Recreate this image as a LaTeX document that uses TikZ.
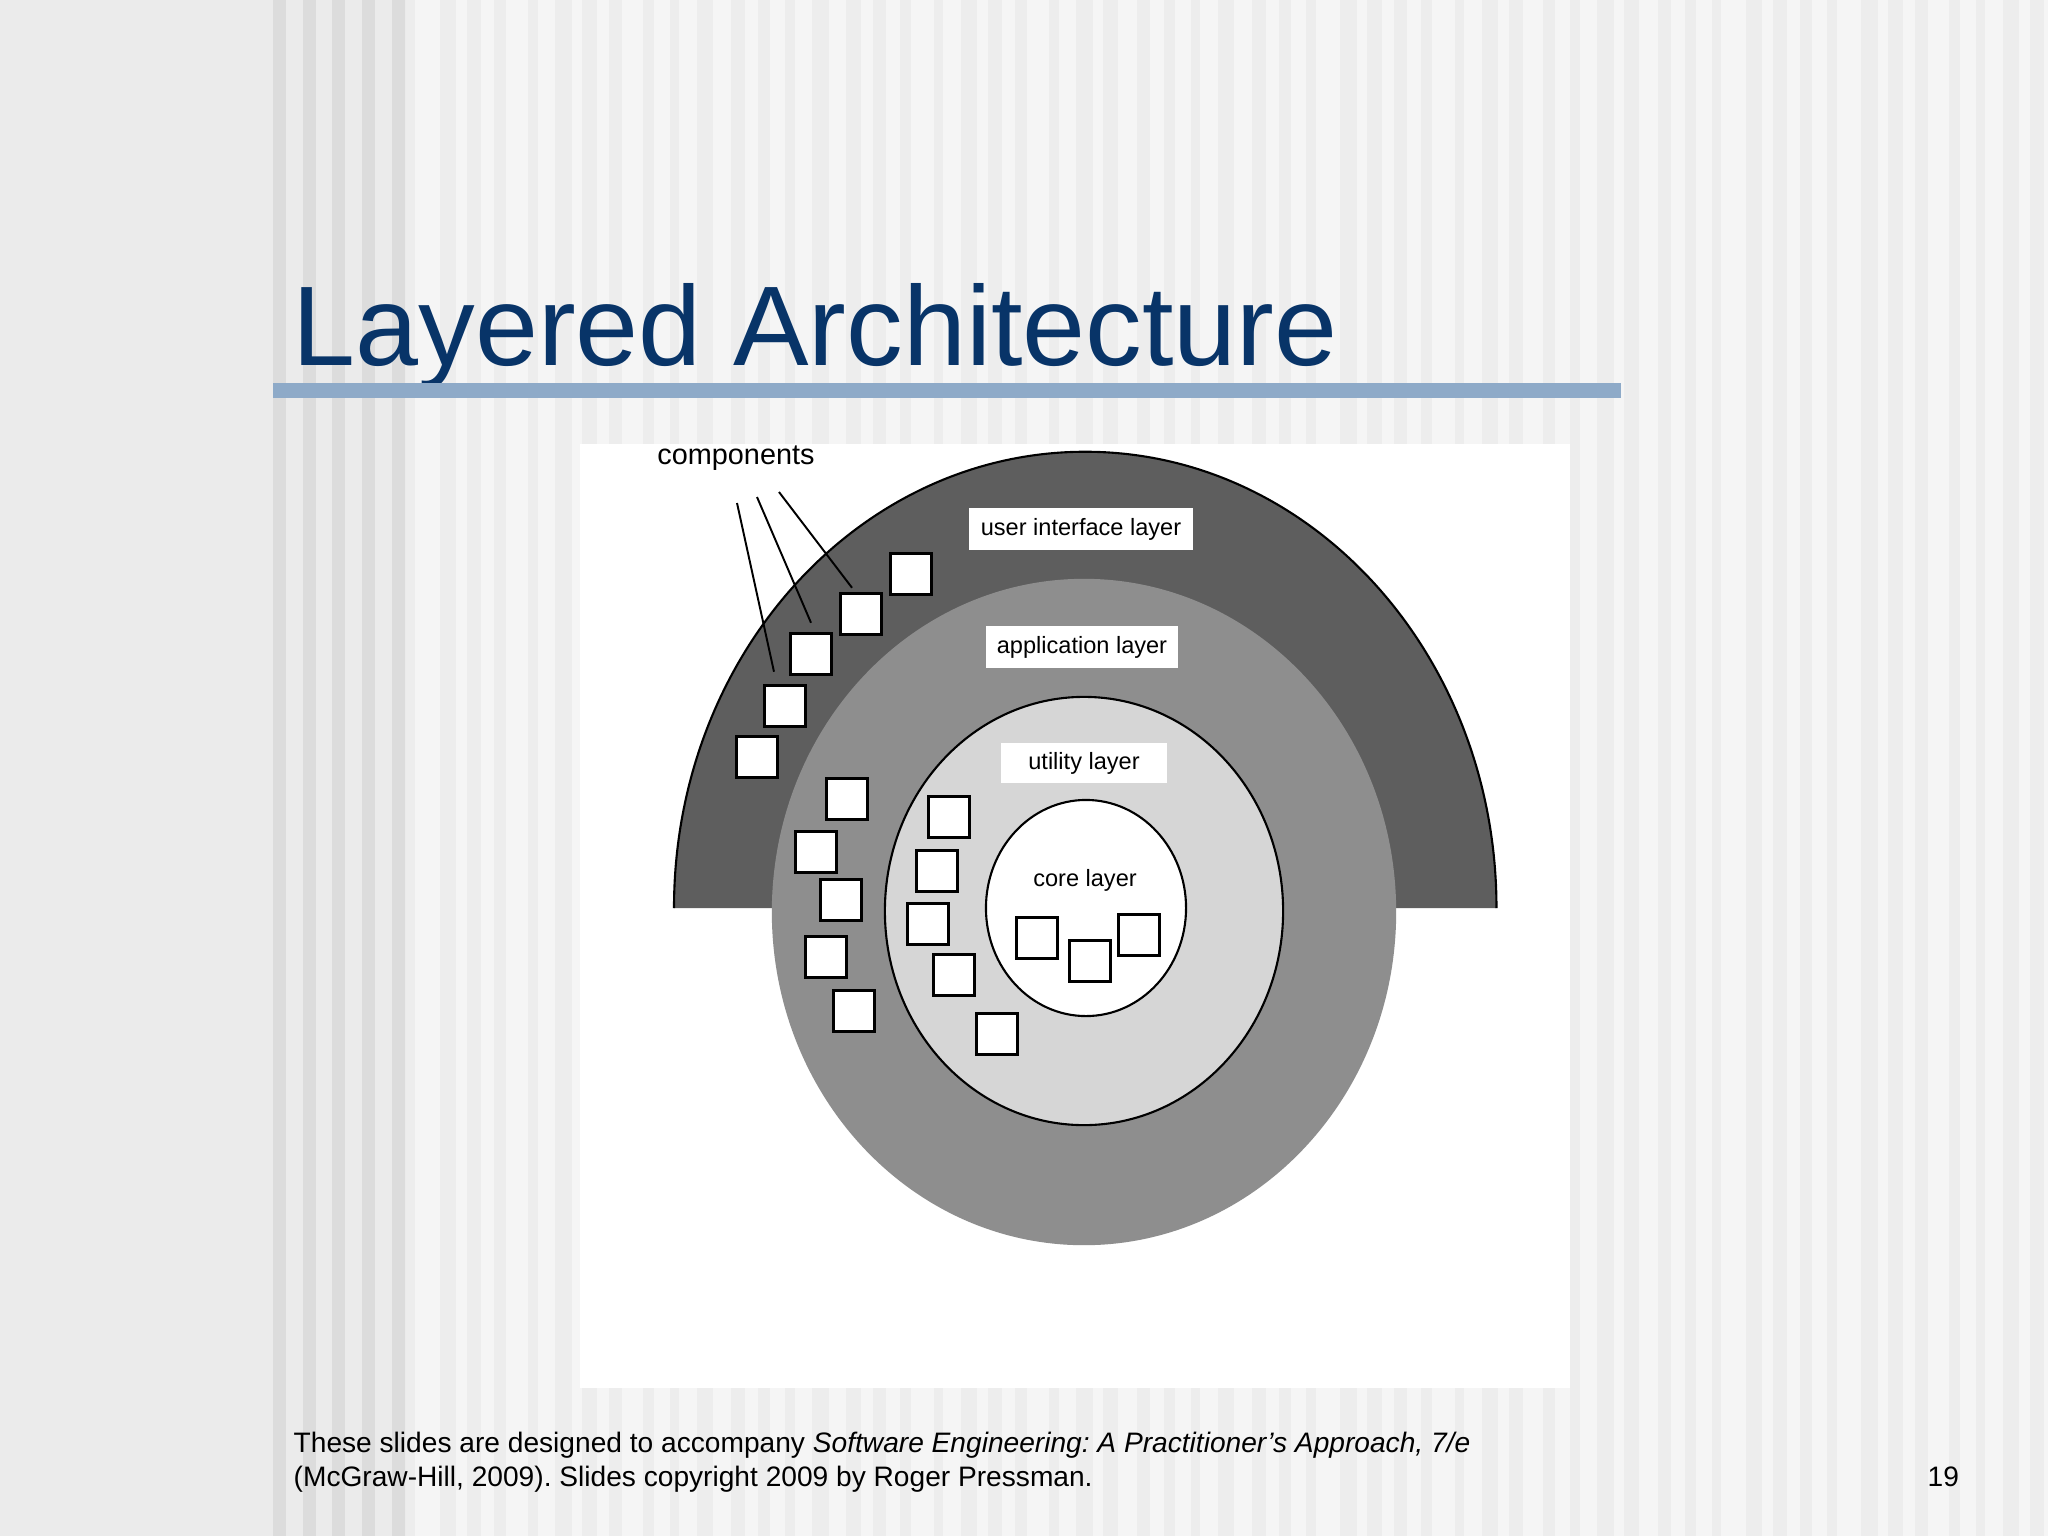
\documentclass[tikz,border=0pt]{standalone}
\usepackage{fontspec}
\setmainfont{Liberation Sans}
\frenchspacing
\definecolor{titleblue}{RGB}{8,52,104}
\definecolor{barblue}{RGB}{142,170,200}
\definecolor{pagegray}{RGB}{235,235,235}
\definecolor{stripedark}{RGB}{220,220,220}
\definecolor{stripelight}{RGB}{245,245,245}
\definecolor{stripemid}{RGB}{237,237,237}
\definecolor{uigray}{RGB}{94,94,94}
\definecolor{appgray}{RGB}{142,142,142}
\definecolor{utilgray}{RGB}{214,214,214}
\tikzset{
  comp/.style={draw,line width=0.85pt,fill=white,minimum size=0.415cm,inner sep=0},
  layerlabel/.style={fill=white,inner sep=0,font=\fontsize{6.7}{8}\selectfont},
  ring/.style={draw,line width=0.6pt},
  pointer/.style={line width=0.55pt},
  slidetext/.style={anchor=base west,inner sep=0,font=\fontsize{8.0}{9.6}\selectfont},
}
\begin{document}
\begin{tikzpicture}[x=0.01cm,y=-0.01cm]
  \useasboundingbox (0,0) rectangle (2048,1536);
  % slide background
  \fill[pagegray] (0,0) rectangle (2048,1536);
  \fill[stripelight] (406,0) rectangle (2048,1536);
  \foreach \x in {273,303,332,362,392}
    \fill[stripedark] (\x,0) rectangle ++(13,1536);
  \foreach \i in {0,...,56}
    \fill[stripemid] ({406+29*\i+mod(\i*5,7)},0) rectangle ++({9+mod(\i*7,9)},1536);

  % title
  \node[anchor=base west,inner sep=0,text=titleblue,font=\fontsize{32.2}{38}\selectfont] (title) at (292,365) {Layered Architecture};
  \fill[barblue] (273,383) rectangle (1621,398);

  % the figure
  \fill[white] (580,444) rectangle (1570,1388);
  \fill[uigray] (674,908) arc[start angle=180,end angle=0,x radius=4.11cm,y radius=4.56cm] -- cycle;
  \draw[line width=0.6pt] (674,908) arc[start angle=180,end angle=0,x radius=4.11cm,y radius=4.56cm];
  \fill[appgray] (1084,912) ellipse[x radius=3.12cm,y radius=3.33cm];
  \filldraw[fill=utilgray,ring] (1084,911) ellipse[x radius=1.99cm,y radius=2.14cm];
  \filldraw[fill=white,ring] (1086,908) ellipse[x radius=1.0cm,y radius=1.08cm];

  \foreach \n/\p in {1/{911,574},2/{861,614},3/{811,654},4/{785,706},5/{757,757},
      6/{847,799},7/{816,852},8/{841,900},9/{826,957},10/{854,1011},
      11/{949,817},12/{937,871},13/{928,924},14/{954,975},15/{997,1034},
      16/{1037,938},17/{1090,961},18/{1139,935}}
    \node[comp] (s\n) at (\p) {};

  \node[layerlabel,minimum width=2.23cm,minimum height=0.42cm] (uilayer) at (1081,529) {user interface layer};
  \node[layerlabel,minimum width=1.92cm,minimum height=0.42cm] (applayer) at (1082,647) {application layer};
  \node[layerlabel,minimum width=1.66cm,minimum height=0.40cm] (utillayer) at (1084,763) {utility layer};
  \node[font=\fontsize{6.7}{8}\selectfont] (corelayer) at (1085,880) {core layer};
  \node[font=\fontsize{8.2}{10}\selectfont] (components) at (736,458) {components};

  \coordinate (ca) at (737,503);
  \coordinate (cb) at (757,497);
  \coordinate (cc) at (779,492);
  \draw[pointer] (ca) -- ([xshift=-0.11cm,yshift=0.12cm]s4.north);
  \draw[pointer] (cb) -- ([yshift=0.09cm]s3.north);
  \draw[pointer] (cc) -- ([xshift=-0.09cm,yshift=0.04cm]s2.north);

  % footer
  \node[slidetext] (foot1) at (293,1452) {These slides are designed to accompany \textit{Software Engineering: A Practitioner’s Approach, 7/e}};
  \node[slidetext] (foot2) at (293,1486) {(McGraw-Hill, 2009). Slides copyright 2009 by Roger Pressman.};
  \node[slidetext] (pagenum) at (1927,1486) {19};
\end{tikzpicture}
\end{document}
